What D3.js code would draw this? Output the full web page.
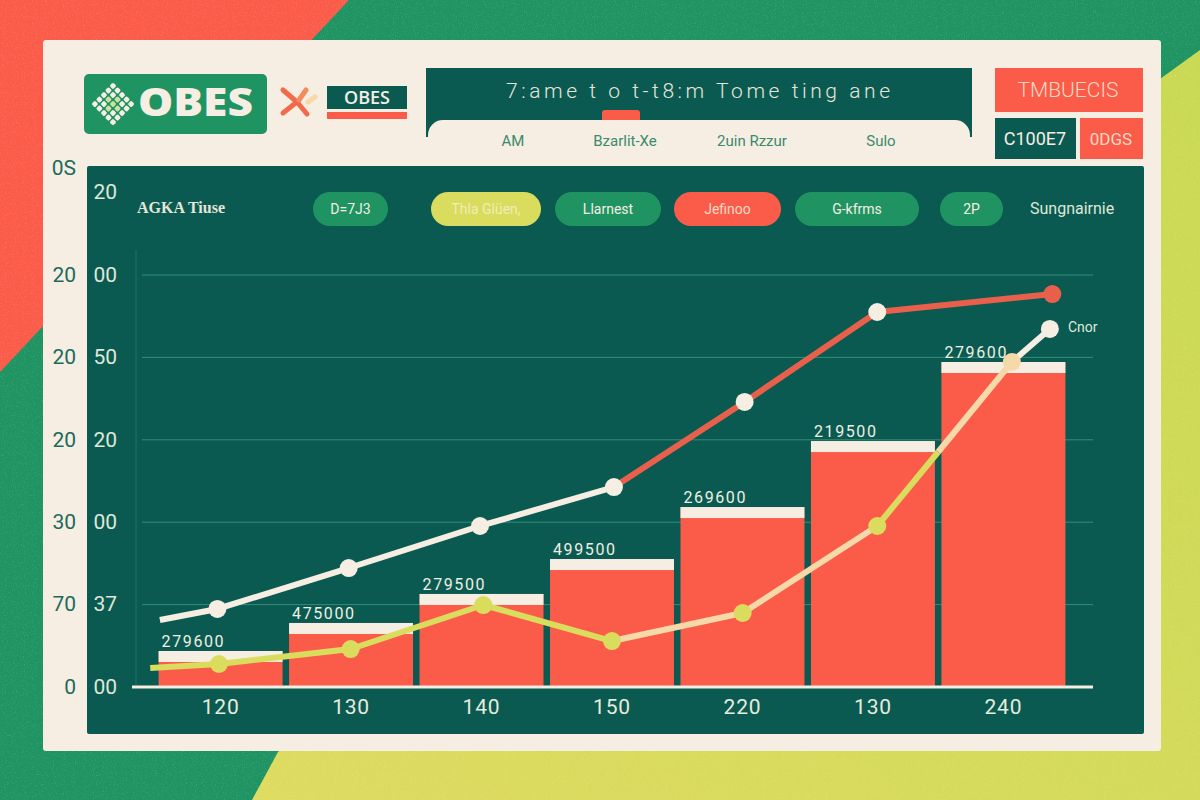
<!DOCTYPE html>
<html>
<head>
<meta charset="utf-8">
<script src="https://cdn.jsdelivr.net/npm/d3@7"></script>
<style>
  html, body { margin: 0; padding: 0; background: #1f9462; }
  svg { display: block; }
  text { font-family: "Roboto", sans-serif; }
  .domain { display: none; }
</style>
</head>
<body>
<svg id="chart" width="1200" height="800"></svg>
<script>
// chart data
var xLabels = ['120', '130', '140', '150', '220', '130', '240'];
var barValues = [0.437, 0.777, 1.129, 1.553, 2.184, 2.985, 3.944];
var barLabels = ['279600', '475000', '279500', '499500', '269600', '219500', '279600'];

// lines run in category units (0 = first bar), they don't sit exactly on the bars
var upperX = [-0.46, -0.02, 0.985, 1.99, 3.015, 4.015, 5.03, 6.37];
var upperY = [0.813, 0.947, 1.444, 1.954, 2.427, 3.459, 4.551, 4.769];
var lowerX = [-0.534, -0.008, 1.0, 2.015, 3.0, 4.0, 5.03, 5.496, 6.06, 6.351];
var lowerY = [0.231, 0.279, 0.461, 0.995, 0.558, 0.898, 1.954, 2.852, 3.944, 4.345];

var innerTicks = [0, 1, 2, 3, 4, 5, 6];
var innerLabels = ['00', '37', '00', '20', '50', '00', '20'];
var outerTicks = [0, 1, 2, 3, 4, 5, 6.3];
var outerLabels = ['0', '70', '30', '20', '20', '20', '0S'];
var gridTicks = [1, 2, 3, 4, 5];

var legendLabels = ['D=7J3', 'Thla Glüen,', 'Llarnest', 'Jefinoo', 'G-kfrms', '2P'];
var tabLabels = ['AM', 'Bzarlit-Xe', '2uin Rzzur', 'Sulo'];

var dark = '#0b5a52', red = '#fb5c4a', cream = '#f6eee2', green = '#1f9462',
    lime = '#d9dc5c', peach = '#f5d9a8', lineRed = '#e8604c';
var narrow = '"Liberation Sans Narrow", "Roboto", sans-serif';

var svg = d3.select('#chart');

// grain for the background and a slight shift in the lime
var defs = svg.append('defs');
var grain = defs.append('filter').attr('id', 'grain').attr('x', 0).attr('y', 0).attr('width', '100%').attr('height', '100%');
grain.append('feTurbulence').attr('type', 'fractalNoise').attr('baseFrequency', 0.9).attr('numOctaves', 2).attr('seed', 4);
grain.append('feColorMatrix').attr('values', '0 0 0 0 1  0 0 0 0 1  0 0 0 0 1  0 0 0 1.6 -0.85');
var limeGrad = defs.append('linearGradient').attr('id', 'limeGrad')
    .attr('x1', 1).attr('y1', 0).attr('x2', 0).attr('y2', 1);
limeGrad.append('stop').attr('offset', 0).attr('stop-color', '#c9d953');
limeGrad.append('stop').attr('offset', 1).attr('stop-color', '#dedb60');

// background shapes
svg.append('rect').attr('width', 1200).attr('height', 800).attr('fill', green);
svg.append('path').attr('d', 'M0,0L349,0L0,372Z').attr('fill', red);
svg.append('path').attr('d', 'M1200,50L1160,79L278,752L252,800L1200,800Z').attr('fill', 'url(#limeGrad)');
svg.append('rect').attr('width', 1200).attr('height', 800).attr('filter', 'url(#grain)').attr('opacity', 0.25);
svg.append('rect').attr('x', 43).attr('y', 40).attr('width', 1118).attr('height', 711)
    .attr('rx', 3).attr('fill', cream);

// logo
svg.append('rect').attr('x', 84).attr('y', 74).attr('width', 183).attr('height', 60)
    .attr('rx', 5).attr('fill', green);
var dots = d3.cross(d3.range(-2, 3), d3.range(-2, 3));
svg.append('g').attr('transform', 'translate(113,104) rotate(45)')
    .selectAll('rect').data(dots).join('rect')
    .attr('x', function(d) { return d[0] * 6.4 - 2.5; })
    .attr('y', function(d) { return d[1] * 6.4 - 2.5; })
    .attr('width', 5).attr('height', 5).attr('rx', 1.5)
    .attr('fill', function(d) { return Math.abs(d[0]) + Math.abs(d[1]) < 2 ? '#cfe0a0' : cream; });
svg.append('text').attr('x', 138).attr('y', 116).text('OBES')
    .attr('font-size', 38).attr('font-weight', 800).attr('fill', cream)
    .style('font-family', '"Open Sans"')
    .attr('textLength', 115).attr('lengthAdjust', 'spacingAndGlyphs');

// x mark + small logo
var cross = svg.append('g').attr('fill', 'none').attr('stroke-width', 5).attr('stroke-linecap', 'round');
cross.append('path').attr('d', 'M283,90L297,102L283,113M297,102L307,114').attr('stroke', '#f26a4c');
cross.append('path').attr('d', 'M306,90L299,100').attr('stroke', '#f58a5c');
cross.append('path').attr('d', 'M315,97L308,102').attr('stroke', peach);
svg.append('rect').attr('x', 327).attr('y', 86).attr('width', 80).attr('height', 23).attr('fill', dark);
svg.append('rect').attr('x', 327).attr('y', 112).attr('width', 80).attr('height', 7).attr('fill', red);
svg.append('text').attr('x', 367).attr('y', 104).attr('text-anchor', 'middle').text('OBES')
    .attr('font-size', 18).attr('font-weight', 600).attr('fill', cream).style('font-family', '"Open Sans"');

// title block with tabs
svg.append('rect').attr('x', 426).attr('y', 68).attr('width', 546).attr('height', 69).attr('fill', dark);
svg.append('rect').attr('x', 602).attr('y', 110).attr('width', 38).attr('height', 14).attr('rx', 3).attr('fill', red);
svg.append('rect').attr('x', 428).attr('y', 120).attr('width', 542).attr('height', 40).attr('rx', 15).attr('fill', cream);
svg.append('text').attr('x', 506).attr('y', 98).text('7:ame t o t-t8:m Tome ting ane')
    .attr('font-size', 21).attr('font-weight', 300).attr('fill', '#e6e6d8').attr('textLength', 384);
svg.selectAll('.tab').data(tabLabels).join('text').attr('class', 'tab')
    .attr('x', function(d, i) { return [513, 625, 752, 881][i]; })
    .attr('y', 146).attr('text-anchor', 'middle').attr('font-size', 15).attr('fill', '#3a8a6e')
    .text(function(d) { return d; });

// right hand boxes
svg.append('rect').attr('x', 995).attr('y', 68).attr('width', 148).attr('height', 44).attr('fill', red);
svg.append('rect').attr('x', 995).attr('y', 118).attr('width', 81).attr('height', 41).attr('fill', dark);
svg.append('rect').attr('x', 1080).attr('y', 118).attr('width', 63).attr('height', 41).attr('fill', red);
svg.append('text').attr('x', 1068).attr('y', 97).attr('text-anchor', 'middle').text('TMBUECIS')
    .attr('font-size', 21).attr('font-weight', 300).attr('fill', '#f8d9c4');
svg.append('text').attr('x', 1035).attr('y', 145).attr('text-anchor', 'middle').text('C100E7')
    .attr('font-size', 18).attr('fill', cream);
svg.append('text').attr('x', 1111).attr('y', 145).attr('text-anchor', 'middle').text('0DGS')
    .attr('font-size', 17).attr('fill', '#f8d9c4');

// chart panel
svg.append('rect').attr('x', 87).attr('y', 166).attr('width', 1057).attr('height', 568)
    .attr('rx', 2).attr('fill', dark);
svg.append('text').attr('x', 137).attr('y', 213).text('AGKA Tiuse')
    .attr('font-size', 16).attr('font-weight', 700).attr('fill', '#e6e6d8')
    .style('font-family', '"Liberation Serif"').attr('textLength', 88);

// legend pills
var pillX = [313, 431, 555, 674, 795, 940];
var pillW = [75, 110, 106, 107, 124, 63];
var pillFill = [green, lime, green, red, green, green];
var pillText = [cream, '#eeeeb8', cream, '#f8d9c4', cream, cream];
var pills = svg.selectAll('.pill').data(legendLabels).join('g').attr('class', 'pill');
pills.append('rect')
    .attr('x', function(d, i) { return pillX[i]; })
    .attr('y', 192).attr('width', function(d, i) { return pillW[i]; }).attr('height', 34).attr('rx', 17)
    .attr('fill', function(d, i) { return pillFill[i]; });
pills.append('text')
    .attr('x', function(d, i) { return pillX[i] + pillW[i] / 2; })
    .attr('y', 214).attr('text-anchor', 'middle').attr('font-size', 14)
    .attr('fill', function(d, i) { return pillText[i]; })
    .text(function(d) { return d; });
svg.append('text').attr('x', 1030).attr('y', 214).text('Sungnairnie')
    .attr('font-size', 16).attr('fill', '#dfe8d8');

// scales
var y = d3.scaleLinear().domain([0, 5]).range([687, 275]);
var x = d3.scaleBand().domain(d3.range(xLabels.length)).range([156, 1068]).paddingInner(0.05).paddingOuter(0.02);
var xPos = d3.scaleLinear().domain([0, 6]).range([220, 1004]);

// axes
svg.append('g').attr('transform', 'translate(120,0)')
    .call(d3.axisLeft(y).tickValues(innerTicks).tickSize(0)
        .tickFormat(function(d, i) { return innerLabels[i]; }))
    .call(function(g) {
        g.selectAll('text').attr('font-size', 21).attr('fill', '#dfe8d8').attr('dy', '0.3em')
            .style('font-family', narrow);
    });
svg.append('g').attr('transform', 'translate(79,0)')
    .call(d3.axisLeft(y).tickValues(outerTicks).tickSize(0)
        .tickFormat(function(d, i) { return outerLabels[i]; }))
    .call(function(g) {
        g.selectAll('text').attr('font-size', 21).attr('fill', '#1c6a5c').attr('dy', '0.3em')
            .style('font-family', narrow);
    });

// grid
svg.append('g').selectAll('line').data(gridTicks).join('line')
    .attr('x1', 142).attr('x2', 1093)
    .attr('y1', y).attr('y2', y)
    .attr('stroke', '#2f8f78').attr('stroke-width', 1);
svg.append('line').attr('x1', 136).attr('x2', 136).attr('y1', 250).attr('y2', 685)
    .attr('stroke', '#1c7466').attr('stroke-width', 1);

// bars with the cream cap on top
var bars = svg.selectAll('.bar').data(barValues).join('g').attr('class', 'bar');
bars.append('rect')
    .attr('x', function(d, i) { return x(i); })
    .attr('y', function(d) { return y(d); })
    .attr('width', x.bandwidth())
    .attr('height', function(d) { return y(0) - y(d); })
    .attr('fill', red);
bars.append('rect')
    .attr('x', function(d, i) { return x(i); })
    .attr('y', function(d) { return y(d); })
    .attr('width', x.bandwidth())
    .attr('height', 11)
    .attr('fill', cream);
bars.append('text')
    .attr('x', function(d, i) { return x(i) + 3; })
    .attr('y', function(d) { return y(d) - 4; })
    .attr('font-size', 16).attr('letter-spacing', 1.6).attr('fill', '#eef0e2')
    .text(function(d, i) { return barLabels[i]; });

svg.append('line').attr('x1', 132).attr('x2', 1093).attr('y1', y(0)).attr('y2', y(0))
    .attr('stroke', cream).attr('stroke-width', 3);

var xAxis = svg.append('g').attr('transform', 'translate(0,' + y(0) + ')')
    .call(d3.axisBottom(x).tickSize(0).tickPadding(12)
        .tickFormat(function(i) { return xLabels[i]; }));
xAxis.selectAll('text').attr('font-size', 21).attr('fill', '#e6ecdc')
    .style('font-family', narrow).attr('letter-spacing', 0.8);

// lines, coloured piece by piece
function drawLine(xs, ys, colors, markColors) {
    var g = svg.append('g');
    colors.forEach(function(c, i) {
        g.append('line')
            .attr('x1', xPos(xs[i])).attr('y1', y(ys[i]))
            .attr('x2', xPos(xs[i + 1])).attr('y2', y(ys[i + 1]))
            .attr('stroke', c).attr('stroke-width', 6);
    });
    g.selectAll('circle').data(xs).join('circle')
        .attr('cx', function(d) { return xPos(d); })
        .attr('cy', function(d, i) { return y(ys[i]); })
        .attr('r', function(d, i) { return markColors[i] ? 9 : 0; })
        .attr('fill', function(d, i) { return markColors[i] || 'none'; });
}

drawLine(upperX, upperY,
    [cream, cream, cream, cream, lineRed, lineRed, lineRed],
    [null, cream, cream, cream, cream, cream, cream, lineRed]);
drawLine(lowerX, lowerY,
    [lime, lime, lime, lime, peach, peach, lime, peach, cream],
    [null, lime, lime, lime, lime, lime, lime, null, peach, cream]);

svg.append('text').attr('x', 1068).attr('y', 332).text('Cnor')
    .attr('font-size', 14).attr('fill', '#dfe8d8');
</script>
</body>
</html>
